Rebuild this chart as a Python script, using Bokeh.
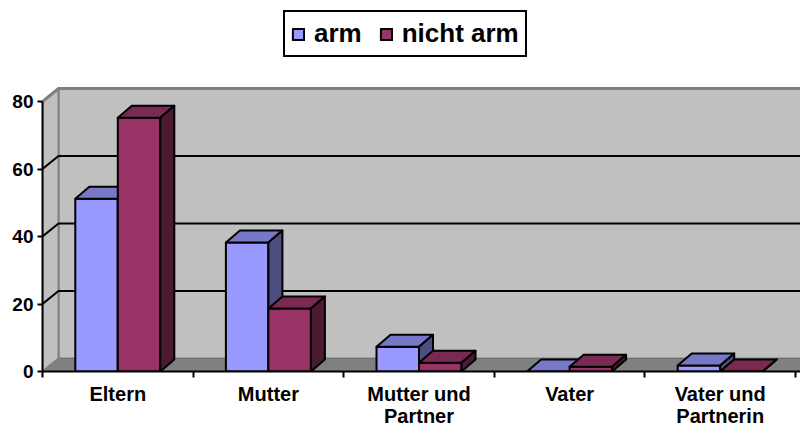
from bokeh.plotting import figure
from bokeh.models import Range1d, FixedTicker, LinearAxis, Legend, LegendItem
from bokeh.embed import file_html
from bokeh.resources import INLINE

# ---- data ----
categories = ["Eltern", "Mutter", "Mutter und\nPartner", "Vater", "Vater und\nPartnerin"]
series_names = ["arm", "nicht arm"]
arm = [51.2, 38.2, 7.3, 0, 1.8]
nicht_arm = [75.2, 18.7, 2.6, 1.4, 0]
y_ticks = [0, 20, 40, 60, 80]

# ---- styles ----
front_colors = ["#9999FF", "#993366"]
top_colors = ["#7878C8", "#7A2952"]
side_colors = ["#4D4D80", "#4D1A33"]
FONT = "Liberation Sans"

W, H = 800, 430
LEFT, BOTTOM = 42, 59
PX_CAT = 150.6      # px per category
PX_VAL = 3.375      # px per value unit
frame_w = W - LEFT
frame_h = H - BOTTOM
x_end = frame_w / PX_CAT
y_end = frame_h / PX_VAL

BW = 42.5 / PX_CAT          # bar width
DXB = 14 / PX_CAT           # bar depth x
DYB = 12 / PX_VAL           # bar depth y
DXW = 16 / PX_CAT           # wall depth x
DYW = 13 / PX_VAL           # wall depth y
YMAX = y_ticks[-1]

p = figure(width=W, height=H, output_backend="svg", toolbar_location=None,
           x_range=Range1d(0, x_end), y_range=Range1d(0, y_end),
           x_axis_type=None, y_axis_type=None,
           min_border_left=LEFT, min_border_bottom=BOTTOM,
           min_border_top=0, min_border_right=0)
p.outline_line_color = None
p.background_fill_color = "white"
p.border_fill_color = "white"

XR = x_end + 1
# floor
p.patch([0, XR, XR, DXW], [0, 0, DYW, DYW], fill_color="#808080", line_color=None)
# back wall
p.patch([DXW, XR, XR, DXW], [DYW, DYW, YMAX + DYW, YMAX + DYW],
        fill_color="#C0C0C0", line_color="#808080", line_width=2)
# side wall
p.patch([0, DXW, DXW, 0], [0, DYW, YMAX + DYW, YMAX],
        fill_color="#C0C0C0", line_color="#808080", line_width=2)
# gridlines
gx = [[0, DXW, XR] for v in y_ticks[1:-1]]
gy = [[v, v + DYW, v + DYW] for v in y_ticks[1:-1]]
p.multi_line(gx, gy, line_color="black", line_width=2)
p.line([0, DXW, XR], [YMAX, YMAX + DYW, YMAX + DYW], line_color="#808080", line_width=3)
p.line([DXW, XR], [DYW, DYW], line_color="#707070", line_width=1)

legend_items = []
for s, vals in enumerate([arm, nicht_arm]):
    fx, fy, tx, ty, sx, sy = [], [], [], [], [], []
    for i, v in enumerate(vals):
        x0 = i + 0.5 - BW + s * BW
        x1 = x0 + BW
        fx.append([x0, x1, x1, x0]); fy.append([0, 0, v, v])
        tx.append([x0, x1, x1 + DXB, x0 + DXB]); ty.append([v, v, v + DYB, v + DYB])
        sx.append([x1, x1 + DXB, x1 + DXB, x1]); sy.append([0, DYB, v + DYB, v])
    rf = p.patches(fx, fy, fill_color=front_colors[s], line_color="black", line_width=2, line_join="round")
    p.patches(tx, ty, fill_color=top_colors[s], line_color="black", line_width=2, line_join="round")
    p.patches(sx, sy, fill_color=side_colors[s], line_color="black", line_width=2, line_join="round")
    legend_items.append(LegendItem(label=series_names[s], renderers=[rf]))

# axes
yaxis = LinearAxis(ticker=FixedTicker(ticks=y_ticks), bounds=(0, YMAX),
                   major_tick_out=5, major_tick_in=0, minor_tick_out=0, minor_tick_in=0,
                   axis_line_width=2, major_tick_line_width=2,
                   axis_line_color="black", major_tick_line_color="black",
                   major_label_text_font=FONT, major_label_text_font_style="bold",
                   major_label_text_color="black",
                   major_label_text_font_size="19px", major_label_standoff=4)
p.add_layout(yaxis, "left")

centers = [i + 0.5 for i in range(len(categories))]
bounds_ticks = list(range(len(categories) + 1))
xaxis = LinearAxis(ticker=FixedTicker(ticks=centers, minor_ticks=bounds_ticks),
                   major_label_overrides={c: lab for c, lab in zip(centers, categories)},
                   major_tick_out=0, major_tick_in=0, minor_tick_out=6, minor_tick_in=0,
                   minor_tick_line_width=2, axis_line_width=2,
                   axis_line_color="black", minor_tick_line_color="black",
                   major_label_text_font=FONT, major_label_text_font_style="bold",
                   major_label_text_color="black",
                   major_label_text_font_size="20px", major_label_text_line_height=1.0,
                   major_label_standoff=5)
p.add_layout(xaxis, "below")

legend = Legend(items=legend_items, orientation="horizontal", location=(241, 314),
                label_text_font=FONT, label_text_font_style="bold", label_text_font_size="26px",
                label_text_color="black",
                glyph_width=14, glyph_height=14, label_standoff=9, spacing=17,
                padding=6, margin=0, border_line_color="black", border_line_width=2,
                border_line_alpha=1,
                background_fill_color="white", background_fill_alpha=1)
p.add_layout(legend)

open("out.html", "w").write(file_html(p, INLINE))
